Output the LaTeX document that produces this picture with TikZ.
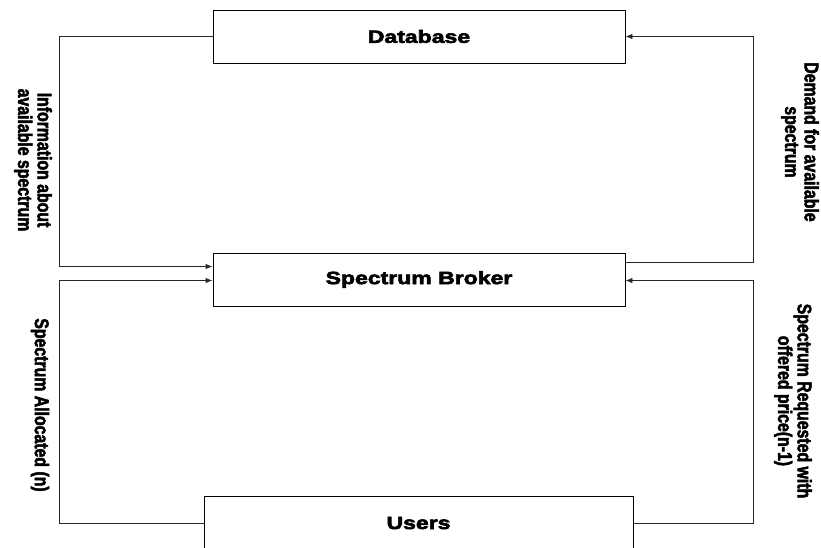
\documentclass[tikz,border=0pt]{standalone}
\usepackage{fontspec}
\usetikzlibrary{arrows.meta}
% Wide heavy face for the block titles, narrow heavy face for the flow labels
\newfontfamily\blockfont{Liberation Sans Bold}[FakeStretch=1.3,FakeBold=3.5]
\newfontfamily\flowfont{Liberation Sans Bold}[FakeStretch=0.8,FakeBold=2.5]
\tikzset{
  block/.style={draw=black, line width=0.9pt, minimum width=412pt, minimum height=53pt,
    inner sep=0pt, font=\blockfont\fontsize{17.7}{20}\selectfont},
  conn/.style={draw=black!85, line width=0.9pt, -{Latex[length=7pt,width=5.5pt]}},
  flowlabel/.style={rotate=-90, align=center, inner sep=0pt,
    font=\flowfont\fontsize{19.8}{19.5}\selectfont},
}
\begin{document}
\begin{tikzpicture}[x=1pt,y=-1pt]
  \useasboundingbox (0,0) rectangle (821,548);
  % blocks
  \node[block] (db) at (419,36.5) {Database};
  \node[block] (sb) at (419,279.5) {Spectrum Broker};
  \node[block, minimum width=429pt] (us) at (418.5,523) {Users};
  % routing columns
  \coordinate (lx) at (59,0);
  \coordinate (rx) at (753,0);
  % left side loops
  \draw[conn] (db.west) -- (db.west -| lx) |- ([yshift=13pt]sb.west);
  \draw[conn] (us.west) -- (us.west -| lx) |- ([yshift=-1pt]sb.west);
  % right side loops
  \draw[conn] ([yshift=17.5pt]sb.east) -- ([yshift=17.5pt]sb.east -| rx) |- (db.east);
  \draw[conn] (us.east) -- (us.east -| rx) |- ([yshift=-1pt]sb.east);
  % flow labels
  \node[flowlabel] (info) at (33,160) {Information about\\available spectrum};
  \node[flowlabel] (demand) at (800,142) {Demand for available\\spectrum};
  \node[flowlabel] (alloc) at (40,405) {Spectrum Allocated (n)};
  \node[flowlabel] (req) at (793,401) {Spectrum Requested with\\offered price(n-1)};
\end{tikzpicture}
\end{document}
